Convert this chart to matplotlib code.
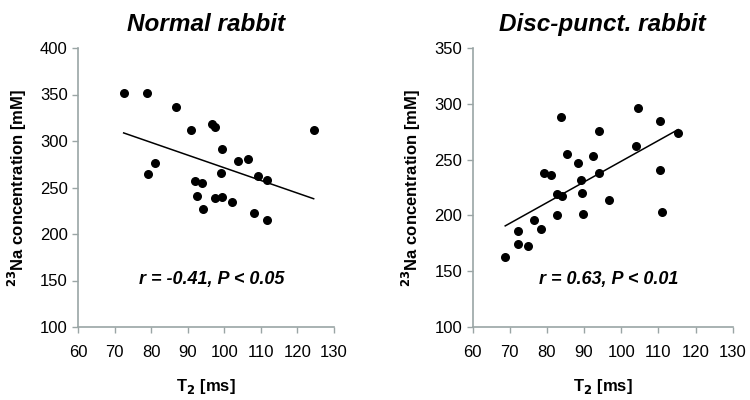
import numpy as np
import matplotlib
matplotlib.use("Agg")
import matplotlib.pyplot as plt

plt.rcParams['font.family'] = ['Liberation Sans', 'DejaVu Sans']

# normal rabbit
normal_t2 = [72.5, 78.8, 86.8, 90.8, 96.8, 97.6, 124.5, 99.5, 103.9, 106.6, 81.2, 79.1,
             99.2, 109.4, 111.7, 91.9, 93.9, 92.5, 97.4, 99.5, 102.1, 94.1, 108.2, 111.7]
normal_na = [352, 352, 337, 312, 318, 315, 312, 291, 279, 281, 276, 264,
             266, 262, 258, 257, 255, 241, 239, 240, 234, 227, 223, 215]

# disc-punctured rabbit
punct_t2 = [68.8, 72.2, 72.2, 75.0, 76.6, 78.5, 79.1, 81.0, 82.8, 82.8, 83.9, 84.2, 85.4, 88.5,
            89.1, 89.5, 89.7, 92.3, 94.1, 94.0, 96.6, 103.9, 104.4, 110.5, 110.4, 111.0, 115.3]
punct_na = [163, 186, 174, 173, 196, 188, 238, 236, 219, 200, 288, 217, 255, 247,
            232, 220, 201, 253, 276, 238, 214, 262, 296, 285, 241, 203, 274]

titles = ["Normal rabbit", "Disc-punct. rabbit"]
stats = ["r = -0.41, P < 0.05", "r = 0.63, P < 0.01"]
ylims = [(100, 400), (100, 350)]
stat_y = [151, 143]

fig = plt.figure(figsize=(7.5, 4), dpi=100)
axes = [fig.add_axes([0.104, 0.1825, 0.341, 0.6975]),
        fig.add_axes([0.630, 0.1825, 0.347, 0.6975])]

data = [(normal_t2, normal_na), (punct_t2, punct_na)]
for ax, (x, y), title, st, yl, sy in zip(axes, data, titles, stats, ylims, stat_y):
    x = np.array(x)
    y = np.array(y)
    ax.scatter(x, y, s=30, color='black', zorder=3)
    k, b = np.polyfit(x, y, 1)
    xx = np.array([x.min(), x.max()])
    ax.plot(xx, k * xx + b, color='black', lw=1.1)
    ax.set_xlim(60, 130)
    ax.set_ylim(*yl)
    ax.set_xticks(range(60, 131, 10))
    ax.set_yticks(range(yl[0], yl[1] + 1, 50))
    for s in ['top', 'right']:
        ax.spines[s].set_visible(False)
    for s in ['left', 'bottom']:
        ax.spines[s].set_color('#9aa5a5')
        ax.spines[s].set_linewidth(1.2)
    ax.tick_params(axis='both', colors='#9aa5a5', labelcolor='black', labelsize=12,
                   length=4, width=1)
    ax.tick_params(axis='x', pad=9)
    ax.set_title(title, fontsize=17.5, fontweight='bold', fontstyle='italic', pad=12)
    ax.set_xlabel(r'T$_\mathbf{2}$ [ms]', fontsize=12, fontweight='bold', labelpad=12)
    ax.set_ylabel(r'$^\mathbf{23}$Na concentration [mM]', fontsize=12, fontweight='bold',
                  labelpad=8)
    ax.text(96.5, sy, st, ha='center', va='center',
            fontsize=13, fontweight='bold', fontstyle='italic')

fig.savefig('out.png', dpi=100)
